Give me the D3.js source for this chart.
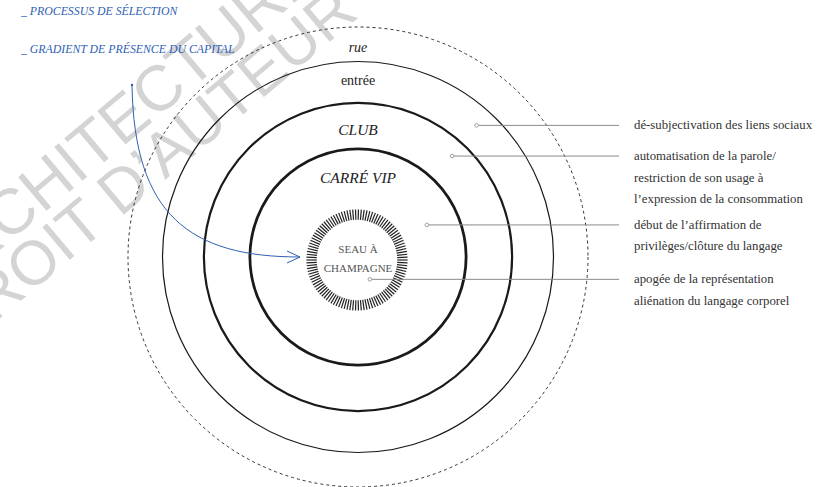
<!DOCTYPE html>
<html>
<head>
<meta charset="utf-8">
<script src="https://cdn.jsdelivr.net/npm/d3@7"></script>
<style>
  body { margin: 0; background: #fff; }
</style>
</head>
<body>
<script>
// zones, from the outside in (size on a 0-100 scale)
var zoneNames = ["rue", "entrée", "CLUB", "CARRÉ VIP"];
var zoneSize = [100, 85, 67, 47];
var zoneLabelAt = [89, 75, 53, 32];
var zoneItalic = [true, false, true, true];

// champagne bucket ring
var bucketOuter = 22, bucketInner = 17.5, bucketTicks = 110;
var bucketLines = ["SEAU À", "CHAMPAGNE"];

// annotations: where the dot sits (size, angle in degrees) and the text
var noteSize = [77, 60, 33, 11];
var noteAngle = [-48, -47, -25, 62];
var noteText = [
  ["dé-subjectivation des liens sociaux"],
  ["automatisation de la parole/", "restriction de son usage à", "l’expression de la consommation"],
  ["début de l’affirmation de", "privilèges/clôture du langage"],
  ["apogée de la représentation", "aliénation du langage corporel"]
];

var legendItems = ["PROCESSUS DE SÉLECTION", "GRADIENT DE PRÉSENCE DU CAPITAL"];
var watermark = ["ARCHITECTURE", "DROIT D’AUTEUR"];

var width = 822, height = 487;
var cx = 358, cy = 257;
var blue = "#2f5fb3";
var serif = "'Liberation Serif', 'DejaVu Serif', serif";
var sans = "'Liberation Sans', 'DejaVu Sans', sans-serif";

var r = d3.scaleLinear().domain([0, 100]).range([0, 230]);

var svg = d3.select("body").append("svg")
    .attr("width", width)
    .attr("height", height)
    .attr("font-family", serif);

// watermark behind everything
var wm = svg.append("g")
    .attr("fill", "#d4d4d4")
    .attr("font-family", sans);
wm.append("text")
    .attr("font-size", 64)
    .attr("transform", "translate(-61,301) rotate(-40)")
    .text(watermark[0]);
wm.append("text")
    .attr("font-size", 62)
    .attr("transform", "translate(-40,352) rotate(-40)")
    .text(watermark[1]);

var g = svg.append("g").attr("transform", "translate(" + cx + "," + cy + ")");

// rings
var strokeW = [1, 1.2, 2.2, 2.8];
g.selectAll(".ring")
    .data(zoneSize)
  .enter().append("circle")
    .attr("class", "ring")
    .attr("r", function(d) { return r(d); })
    .attr("fill", "none")
    .attr("stroke", function(d, i) { return i === 0 ? "#333" : "#1a1a1a"; })
    .attr("stroke-width", function(d, i) { return strokeW[i]; })
    .attr("stroke-dasharray", function(d, i) { return i === 0 ? "3,3" : null; });

// zone labels
g.selectAll(".zlabel")
    .data(zoneNames)
  .enter().append("text")
    .attr("class", "zlabel")
    .attr("x", 0)
    .attr("y", function(d, i) { return -r(zoneLabelAt[i]); })
    .attr("text-anchor", "middle")
    .attr("fill", "#222")
    .attr("font-size", function(d, i) { return i < 2 ? 14 : 15.5; })
    .attr("font-style", function(d, i) { return zoneItalic[i] ? "italic" : "normal"; })
    .text(function(d) { return d; });

// bucket ticks
var bucket = g.append("g").attr("transform", "translate(-1,3)");
var angle = d3.scaleLinear().domain([0, bucketTicks]).range([0, 2 * Math.PI]);
bucket.selectAll(".tick")
    .data(d3.range(bucketTicks))
  .enter().append("line")
    .attr("x1", function(d) { return r(bucketInner) * Math.cos(angle(d)); })
    .attr("y1", function(d) { return r(bucketInner) * Math.sin(angle(d)); })
    .attr("x2", function(d) { return r(bucketOuter) * Math.cos(angle(d)); })
    .attr("y2", function(d) { return r(bucketOuter) * Math.sin(angle(d)); })
    .attr("stroke", "#222")
    .attr("stroke-width", 1.2);

g.selectAll(".blabel")
    .data(bucketLines)
  .enter().append("text")
    .attr("x", 0)
    .attr("y", function(d, i) { return -4 + i * 19; })
    .attr("text-anchor", "middle")
    .attr("fill", "#555")
    .attr("font-size", 11)
    .text(function(d) { return d; });

// annotations
var lineEnd = 619 - cx, textX = 634 - cx;
var notes = g.selectAll(".note")
    .data(noteText)
  .enter().append("g")
    .attr("class", "note");

function dotX(i) { return r(noteSize[i]) * Math.cos(noteAngle[i] * Math.PI / 180); }
function dotY(i) { return r(noteSize[i]) * Math.sin(noteAngle[i] * Math.PI / 180); }

notes.append("line")
    .attr("x1", function(d, i) { return dotX(i) + 2; })
    .attr("y1", function(d, i) { return dotY(i); })
    .attr("x2", lineEnd)
    .attr("y2", function(d, i) { return dotY(i); })
    .attr("stroke", "#8a8a8a")
    .attr("stroke-width", 1);

notes.append("circle")
    .attr("cx", function(d, i) { return dotX(i); })
    .attr("cy", function(d, i) { return dotY(i); })
    .attr("r", 1.8)
    .attr("fill", "#fff")
    .attr("stroke", "#8a8a8a")
    .attr("stroke-width", 0.8);

notes.each(function(lines, i) {
  d3.select(this).selectAll("text")
      .data(lines)
    .enter().append("text")
      .attr("x", textX)
      .attr("y", function(d, j) { return dotY(i) + 4 + j * 21.5; })
      .attr("fill", "#333")
      .attr("font-size", 12.8)
      .text(function(d) { return d; });
});

// legend
svg.selectAll(".legend")
    .data(legendItems)
  .enter().append("text")
    .attr("x", 21)
    .attr("y", function(d, i) { return 15 + i * 38; })
    .attr("fill", blue)
    .attr("font-size", 11.8)
    .attr("font-style", "italic")
    .text(function(d) { return "_  " + d; });

// blue arrow from the legend to the bucket
var p = d3.path();
p.moveTo(132, 85);
p.bezierCurveTo(134, 215, 190, 257, 300, 257);
svg.append("path")
    .attr("d", p.toString())
    .attr("fill", "none")
    .attr("stroke", blue)
    .attr("stroke-width", 1);
svg.append("circle")
    .attr("cx", 132).attr("cy", 85).attr("r", 1.2)
    .attr("fill", blue);
svg.append("path")
    .attr("d", "M287,251L300,257L287,263")
    .attr("fill", "none")
    .attr("stroke", blue)
    .attr("stroke-width", 1);
</script>
</body>
</html>
